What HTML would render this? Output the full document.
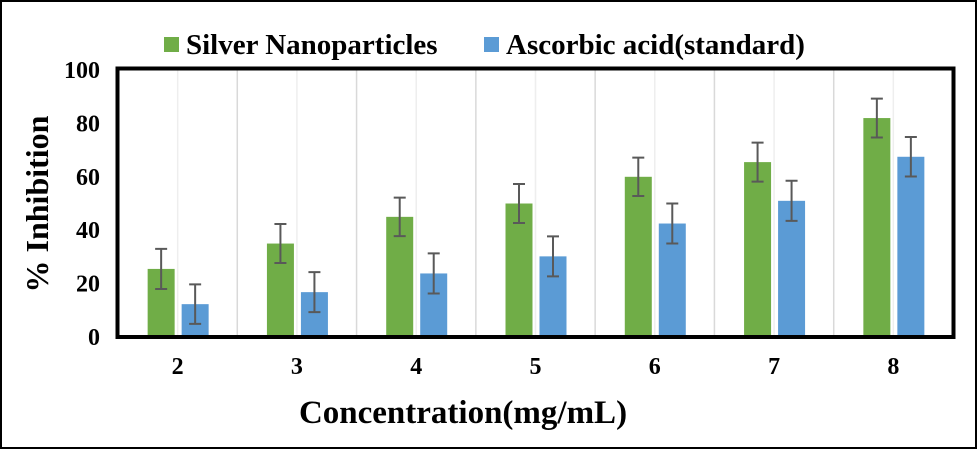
<!DOCTYPE html>
<html><head><meta charset="utf-8"><style>
body{margin:0;background:#fff}
svg{display:block;font-family:"Liberation Serif",serif;font-weight:bold}
</style></head><body>
<svg width="979" height="451" viewBox="0 0 979 451">
<rect x="1" y="1" width="975" height="447" fill="#fff" stroke="#000" stroke-width="2"/>
<g id="grid"></g>
<g id="bars"></g>
<g id="axes"></g>
<g>
<rect x="164" y="37" width="15" height="15" fill="#70ad47"/>
<text x="186" y="54" font-size="29">Silver Nanoparticles</text>
<rect x="484" y="37" width="15" height="15" fill="#5b9bd5"/>
<text x="506" y="54" font-size="29">Ascorbic acid(standard)</text>
</g>
<text x="463" y="423" font-size="33" text-anchor="middle">Concentration(mg/mL)</text>
<text transform="translate(48,204) rotate(-90)" font-size="32" text-anchor="middle">% Inhibition</text>
</svg>
<script>
const categories=["2","3","4","5","6","7","8"];
const silver=[25.5,35,45,50,60,65.5,82];
const ascorbic=[12.3,16.8,23.8,30.2,42.5,51,67.5];
const silverErr=[7.5,7.3,7.2,7.3,7.2,7.3,7.3];
const ascorbicErr=[7.4,7.5,7.5,7.5,7.5,7.5,7.4];
const yTicks=[0,20,40,60,80,100];
const L=118,R=953,Y0=337,Y100=70;
const cw=(R-L)/categories.length;
const y=v=>Y0-(v/100)*(Y0-Y100);
const cx=i=>L+cw*(i+0.5);
const NS="http://www.w3.org/2000/svg";
function mk(p,t,a){const e=document.createElementNS(NS,t);for(const k in a)e.setAttribute(k,a[k]);p.appendChild(e);return e;}
const grid=document.getElementById('grid'),bars=document.getElementById('bars'),axes=document.getElementById('axes');
for(let i=0;i<categories.length;i++){
 let g=mk(grid,'line',{x1:cx(i),x2:cx(i),y1:Y100,y2:Y0,stroke:'#eeeeee','stroke-width':1.5});
 
 
 if(i>0){let b=mk(grid,'line',{x1:L+cw*i,x2:L+cw*i,y1:Y100,y2:Y0,stroke:'#d9d9d9','stroke-width':1.5});
 
 }
 const series=[[silver,silverErr,'#70ad47',-30,'silver'],[ascorbic,ascorbicErr,'#5b9bd5',4,'ascorbic']];
 for(const [vals,errs,col,off,nm] of series){
  const x=cx(i)+off;
  let r=mk(bars,'rect',{x:x,y:y(vals[i]),width:27,height:Y0-y(vals[i]),fill:col});
  
  
  const ex=x+13.5,t=y(vals[i]+errs[i]),b=y(vals[i]-errs[i]);
  let eg=mk(bars,'path',{d:`M${ex},${t}V${b}M${ex-6},${t}H${ex+6}M${ex-6},${b}H${ex+6}`,stroke:'#595959','stroke-width':2,fill:'none'});
  
  
 }
 let t=mk(axes,'text',{x:cx(i),y:374,'font-size':24,'text-anchor':'middle'});
 t.textContent=categories[i];
 
 
}
let f=mk(axes,'rect',{x:L-0.5,y:Y100-1.5,width:R-L+1,height:Y0-Y100+1.5,fill:'none',stroke:'#000','stroke-width':4});


for(const v of yTicks){
 let t=mk(axes,'text',{x:100,y:y(v)+8,'font-size':24,'text-anchor':'end'});
 t.textContent=v;
 
 
}
</script>
</body></html>
